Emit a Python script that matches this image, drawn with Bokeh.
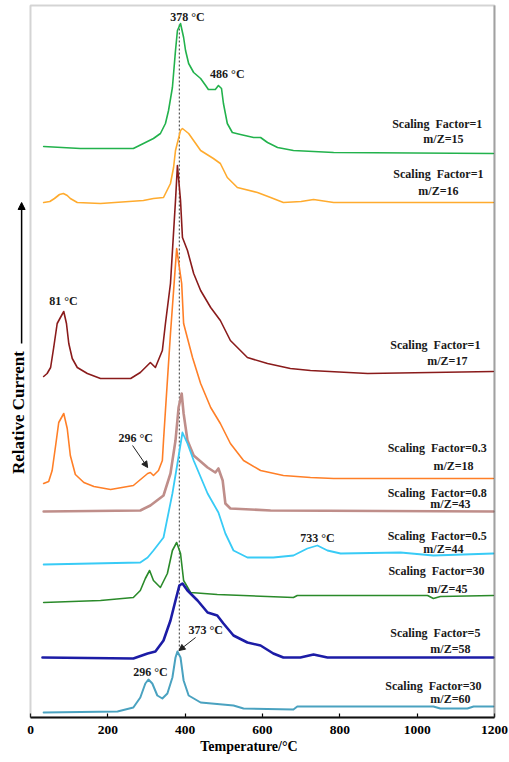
from bokeh.plotting import figure
from bokeh.models import Range1d, BoxAnnotation, Arrow, NormalHead, FixedTicker
from bokeh.core.properties import value
from bokeh.embed import file_html
from bokeh.resources import INLINE

# ---- data (temperature in °C, relative current in arbitrary units) ----
T15 = [34, 129, 266, 292, 318, 336, 349, 357, 367, 375, 380, 388, 396, 401, 409, 422, 440, 453, 460, 478, 486, 494, 499, 509, 522, 543, 577, 595, 613, 639, 680, 784, 1197]
I15 = [571, 569, 569, 574, 579, 584, 594, 607, 630, 667, 687, 694, 680, 667, 654, 645, 639, 632, 628, 628, 632, 629, 614, 594, 585, 583, 580, 580, 575, 570, 567, 565, 564]

T16 = [34, 50, 62, 75, 85, 95, 103, 121, 181, 292, 318, 344, 362, 370, 375, 388, 393, 409, 440, 473, 491, 509, 535, 587, 621, 654, 700, 732, 784, 1197]
I16 = [515, 516, 519, 523, 524, 522, 519, 515, 514, 517, 519, 520, 534, 550, 567, 587, 589, 584, 567, 559, 554, 540, 530, 525, 520, 515, 516, 518, 515, 515]

T17 = [34, 43, 52, 60, 69, 76, 86, 93, 99, 108, 121, 147, 181, 259, 284, 310, 323, 341, 349, 362, 375, 380, 388, 393, 406, 422, 440, 466, 491, 517, 561, 613, 672, 724, 872, 1197]
I17 = [341, 344, 350, 370, 394, 399, 406, 394, 374, 359, 350, 344, 339, 339, 345, 355, 350, 367, 394, 434, 517, 552, 517, 480, 467, 444, 427, 410, 397, 377, 360, 354, 349, 347, 344, 346]

T18 = [34, 47, 56, 65, 73, 86, 95, 103, 116, 138, 164, 207, 266, 303, 310, 318, 331, 341, 344, 349, 362, 378, 391, 396, 419, 440, 466, 491, 517, 551, 595, 654, 724, 784, 1197]
I18 = [234, 236, 247, 272, 295, 304, 289, 262, 243, 235, 231, 228, 232, 244, 245, 242, 247, 257, 277, 307, 384, 469, 434, 394, 360, 334, 310, 294, 274, 257, 247, 242, 240, 239, 239]

T43 = [34, 284, 310, 344, 362, 375, 383, 391, 396, 406, 422, 458, 478, 486, 497, 504, 517, 621, 1197]
I43 = [206, 207, 212, 222, 244, 277, 310, 324, 304, 277, 262, 250, 245, 249, 237, 214, 209, 207, 206]

T44 = [34, 284, 303, 318, 344, 367, 380, 393, 406, 422, 458, 486, 504, 525, 561, 628, 680, 716, 742, 768, 802, 957, 1042, 1197]
I44 = [153, 155, 160, 167, 180, 224, 254, 285, 274, 257, 224, 205, 184, 167, 160, 160, 162, 169, 172, 167, 164, 165, 162, 164]

T45 = [34, 181, 266, 284, 297, 308, 318, 336, 354, 367, 378, 388, 396, 414, 483, 680, 690, 1027, 1042, 1060, 1197]
I45 = [115, 117, 120, 127, 139, 147, 137, 130, 144, 167, 175, 164, 137, 125, 123, 120, 122, 122, 119, 121, 122]

T58 = [31, 266, 303, 323, 344, 362, 375, 385, 393, 406, 432, 458, 483, 499, 525, 561, 595, 628, 654, 698, 732, 768, 1197]
I58 = [60, 59, 64, 66, 77, 97, 117, 132, 134, 127, 117, 105, 102, 94, 82, 75, 72, 64, 60, 60, 63, 60, 60]

T60 = [34, 225, 266, 284, 297, 305, 315, 328, 341, 354, 367, 375, 380, 388, 396, 409, 440, 525, 551, 680, 690, 1042, 1060, 1130, 1146, 1197]
I60 = [5, 6, 10, 20, 34, 38, 34, 22, 19, 24, 40, 60, 66, 60, 37, 22, 15, 12, 9, 8, 11, 11, 9, 9, 11, 11]

series_names = ["m/Z=15", "m/Z=16", "m/Z=17", "m/Z=18", "m/Z=43", "m/Z=44", "m/Z=45", "m/Z=58", "m/Z=60"]
scaling_labels = ["Scaling \u00a0Factor=1", "Scaling \u00a0Factor=1", "Scaling \u00a0Factor=1",
                  "Scaling \u00a0Factor=0.3", "Scaling \u00a0Factor=0.8", "Scaling \u00a0Factor=0.5",
                  "Scaling \u00a0Factor=30", "Scaling \u00a0Factor=5", "Scaling \u00a0Factor=30"]
colors = ["#22b24c", "#ffab2e", "#8a1b1b", "#ff7f27", "#bf8e8a", "#38cbf6", "#2a8a2a", "#1c1ca6", "#4aa2c0"]
widths = [1.6, 1.6, 1.6, 1.6, 2.6, 1.8, 1.6, 2.6, 2.0]

peak_labels = ["378 °C", "486 °C", "81 °C", "296 °C", "733 °C", "373 °C", "296 °C"]
peak_T = [406, 509, 85, 272, 742, 453, 310]
peak_I = [701, 644, 417, 280, 180, 88, 46]

# label anchors (T, I) for the scaling-factor / m/Z captions
scale_T = [1052, 1055, 1047, 1052, 1052, 1052, 1050, 1047, 1042]
scale_I = [594, 544, 373, 270, 225, 182, 147, 85, 32]
mz_T = [1068, 1055, 1078, 1094, 1086, 1068, 1078, 1086, 1086]
mz_I = [579, 527, 357, 252, 214, 169, 129, 69, 19]

x_ticks = [0, 200, 400, 600, 800, 1000, 1200]

FONT = "Liberation Serif"

p = figure(width=509, height=762, output_backend="svg", toolbar_location=None,
           x_range=Range1d(-77.6, 1207.8), y_range=Range1d(0, 714),
           y_axis_location=None, min_border_left=0, min_border_right=12,
           min_border_top=3, min_border_bottom=45)
p.outline_line_color = None
p.grid.visible = False
p.background_fill_color = "white"
p.border_fill_color = "white"

ax = p.xaxis[0]
ax.bounds = (0, 1200)
ax.ticker = FixedTicker(ticks=x_ticks)
ax.axis_line_color = "black"
ax.axis_line_width = 2
ax.major_tick_in = 4
ax.major_tick_out = 0
ax.major_tick_line_color = "black"
ax.major_tick_line_width = 1.2
ax.minor_tick_line_color = None
ax.major_label_text_font = FONT
ax.major_label_text_font_style = "bold"
ax.major_label_text_font_size = "13.5px"
ax.major_label_text_color = "black"
ax.major_label_standoff = 8
ax.axis_label = "Temperature/°C"
ax.axis_label_text_font = FONT
ax.axis_label_text_font_style = "bold"
ax.axis_label_text_font_size = "14px"
ax.axis_label_text_color = "black"
ax.axis_label_standoff = 2

# frame box
p.add_layout(BoxAnnotation(left=0, right=1200, bottom=0, top=712, fill_alpha=0,
                           line_color="#6f6f6f", line_width=2))
p.add_layout(BoxAnnotation(left=1200, right=1200, bottom=0, top=712, fill_alpha=0,
                           line_color="#2a2a2a", line_width=2))

Ts = [T15, T16, T17, T18, T43, T44, T45, T58, T60]
Is = [I15, I16, I17, I18, I43, I44, I45, I58, I60]

# dashed guide line through the main peak
p.line(x=[385, 385], y=[67, 694], line_color="#555555", line_width=1.2, line_dash="2 2")

for T, I, c, w in zip(Ts, Is, colors, widths):
    p.line(x=T, y=I, line_color=c, line_width=w, line_join="round", line_cap="round")

# peak labels
p.text(x=peak_T, y=peak_I, text=peak_labels, text_font=value(FONT), text_font_style="bold",
       text_font_size="12px", text_align="center", text_baseline="middle", text_color="#1a1a1a")

# scaling factor labels
p.text(x=scale_T, y=scale_I, text=scaling_labels, text_font=value(FONT), text_font_style="bold",
       text_font_size="12px", text_align="center", text_baseline="middle", text_color="#1a1a1a")
p.text(x=mz_T, y=mz_I, text=series_names, text_font=value(FONT), text_font_style="bold",
       text_font_size="12px", text_align="center", text_baseline="middle", text_color="#1a1a1a")

# annotation arrows
p.add_layout(Arrow(end=NormalHead(size=6, fill_color="#222222", line_color="#222222"),
                   x_start=264, y_start=272, x_end=303, y_end=250,
                   line_color="#222222", line_width=1))
p.add_layout(Arrow(end=NormalHead(size=6, fill_color="#222222", line_color="#222222"),
                   x_start=427, y_start=80, x_end=384, y_end=67,
                   line_color="#222222", line_width=1))

# y-axis label and arrow
p.text(x=[-31], y=[305], text=["Relative Current"], angle=1.5708, text_font=value(FONT),
       text_font_style="bold", text_font_size="17px", text_align="center",
       text_baseline="middle", text_color="black")
p.add_layout(Arrow(end=NormalHead(size=7, fill_color="black", line_color="black"),
                   x_start=-23, y_start=374, x_end=-23, y_end=515,
                   line_color="black", line_width=1.5))

open("out.html", "w").write(file_html(p, INLINE))
